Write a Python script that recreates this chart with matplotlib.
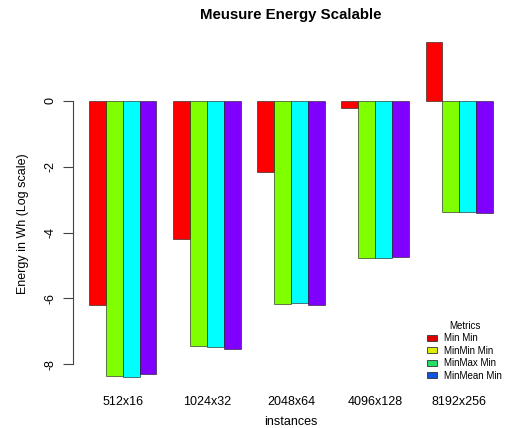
import numpy as np
import matplotlib.pyplot as plt

plt.rcParams['font.family'] = ['Liberation Sans', 'DejaVu Sans']
plt.rcParams['axes.unicode_minus'] = False

instances = ["512x16", "1024x32", "2048x64", "4096x128", "8192x256"]
metrics = ["Min Min", "MinMin Min", "MinMax Min", "MinMean Min"]
min_min = [-6.20, -4.19, -2.15, -0.20, 1.78]
minmin_min = [-8.36, -7.44, -6.17, -4.78, -3.39]
minmax_min = [-8.38, -7.47, -6.15, -4.78, -3.39]
minmean_min = [-8.30, -7.55, -6.19, -4.73, -3.42]
series = [min_min, minmin_min, minmax_min, minmean_min]

bar_colors = ["#FF0000", "#80FF00", "#00FFFF", "#8000FF"]
legend_colors = ["#DD0000", "#DDEE00", "#22DD66", "#1155DD"]

fig = plt.figure(figsize=(5.09, 4.28), dpi=100)
ax = fig.add_axes([73/509, 38/428, 436/509, 361/428])

n = len(series)
for j, vals in enumerate(series):
    x = 1 + np.arange(len(instances)) * (n + 1) + j
    ax.bar(x, vals, width=1, align='edge', color=bar_colors[j],
           edgecolor=(0.1, 0.1, 0.1, 0.6), linewidth=0.7)

allv = np.concatenate([np.array(s) for s in series] + [[0]])
lo, hi = allv.min(), allv.max()
pad = (hi - lo) * 0.04
ax.set_ylim(lo - pad, hi + pad)
ax.set_xlim(1 - 24*0.04, 25 + 24*0.04)

ax.set_yticks([0, -2, -4, -6, -8])
ax.set_yticklabels(['0', '-2', '-4', '-6', '-8'], rotation=90, va='center', fontsize=9)
ax.tick_params(axis='y', length=7, width=0.8, color='#444444', pad=5)
ax.set_xticks(1 + np.arange(len(instances)) * (n + 1) + n/2)
ax.set_xticklabels(instances, fontsize=9)
ax.tick_params(axis='x', length=0, pad=4)

for s in ['top', 'right', 'bottom']:
    ax.spines[s].set_visible(False)
ax.spines['left'].set_bounds(-8, 0)
ax.spines['left'].set_color('#444444')
ax.spines['left'].set_linewidth(0.8)

ax.set_ylabel("Energy in Wh (Log scale)", fontsize=9)
ax.yaxis.set_label_coords(-0.1, 0.46)
ax.set_xlabel("instances", fontsize=9, va='center')
ax.xaxis.set_label_coords(0.5, -0.088)
fig.text(291/509, 1 - 15/428, "Meusure Energy Scalable", ha='center', va='center',
         fontsize=10.8, fontweight='bold')

handles = [plt.Rectangle((0, 0), 1, 1, facecolor=c, edgecolor='#333333', linewidth=0.6)
           for c in legend_colors]
leg = ax.legend(handles, metrics, title="Metrics", fontsize=7, title_fontsize=7,
                frameon=False, loc='upper left',
                bbox_to_anchor=(422/509, 1 - 316/428), bbox_transform=fig.transFigure,
                borderpad=0, handlelength=1.0, handleheight=0.6, handletextpad=0.8,
                labelspacing=0.25)

fig.savefig("out.png", dpi=100)
